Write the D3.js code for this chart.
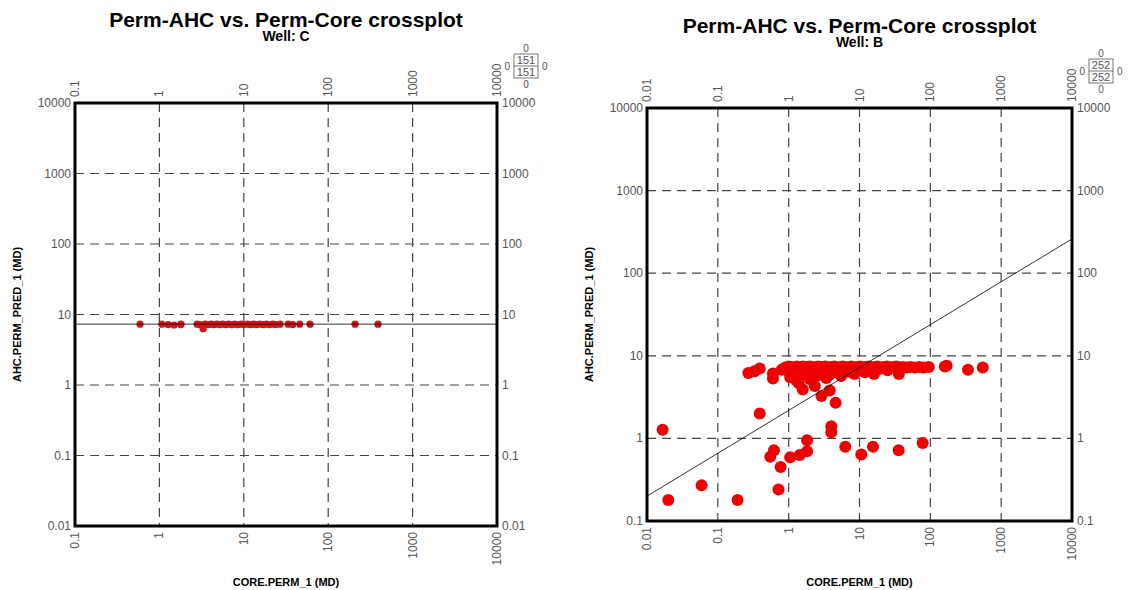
<!DOCTYPE html>
<html>
<head>
<meta charset="utf-8">
<script src="https://d3js.org/d3.v7.min.js"></script>
<style>
body { margin: 0; background: #fff; }
text { font-family: "Liberation Sans", Arial, sans-serif; }
</style>
</head>
<body>
<div id="chart"></div>
<script>
var width = 1128, height = 590;

// Well C: core perm vs predicted perm
var coreC = [0.59, 1.07, 1.27, 1.49, 1.79, 1.8, 2.8, 3.0, 3.2, 3.3, 3.5, 3.8, 4.1, 4.4, 4.8, 5.2, 5.6, 6.1, 6.6, 7.2,
             7.8, 8.5, 9.3, 10, 11, 12, 13, 14, 15.5, 17, 18.5, 20, 22, 24, 27, 33.5, 38, 46, 61, 208, 390];
var predC = [7.3, 7.3, 7.2, 7.1, 7.2, 7.3, 7.3, 7.2, 7.1, 6.3, 7.3, 7.2, 7.3, 7.2, 7.3, 7.2, 7.3, 7.2, 7.3, 7.2,
             7.3, 7.2, 7.3, 7.2, 7.3, 7.2, 7.3, 7.2, 7.3, 7.2, 7.3, 7.2, 7.3, 7.2, 7.3, 7.3, 7.2, 7.3, 7.3, 7.3, 7.3];
var fitC = [[0.1, 7.3], [10000, 7.3]];

// Well B
var coreB = [0.0166, 0.020, 0.059, 0.19, 0.39, 0.27, 0.33, 0.39, 0.6, 0.6, 0.55, 0.62, 0.77, 0.72, 1.05, 1.43, 1.82, 1.82,
             4.0, 4.0, 6.3, 10.6, 15.5, 35.7, 78, 1.58, 2.34, 2.9, 3.8, 4.6, 1.38,
             0.8, 0.9, 1.0, 1.1, 1.2, 1.3, 1.4, 1.5, 1.6, 1.7, 1.8, 2.0, 2.2, 2.4, 2.6, 2.8, 3.0, 3.3, 3.6, 4.0,
             4.4, 4.8, 5.3, 5.8, 6.4, 7.0, 7.7, 8.5, 9.3, 10.2, 11.2, 12.3, 13.5, 15, 16.5, 18, 20, 22, 24.5, 27,
             30, 33, 37, 41, 46, 52, 60, 70, 80, 95, 160, 170, 340, 550,
             1.0, 1.2, 1.4, 1.7, 2.1, 2.5, 3.1, 3.7, 4.5, 5.5, 7, 8.5, 12, 16, 36,
             1.05, 1.3, 1.6, 2.0, 2.6, 3.4, 1.15, 1.5, 1.9, 2.3, 2.8, 3.2, 4.2, 5.0, 6.0, 9, 11, 14, 19, 25];
var predB = [1.27, 0.18, 0.27, 0.18, 2.0, 6.2, 6.5, 7.0, 5.3, 6.1, 0.60, 0.72, 0.45, 0.24, 0.59, 0.63, 0.70, 0.95,
             1.4, 1.19, 0.79, 0.64, 0.79, 0.72, 0.88, 3.9, 4.3, 3.25, 3.8, 2.7, 4.7,
             6.8, 7.2, 7.4, 7.3, 7.1, 7.4, 7.2, 7.3, 7.4, 7.2, 7.3, 7.4, 7.2, 7.3, 7.4, 7.2, 7.3, 7.4, 7.2, 7.3,
             7.4, 7.2, 7.3, 7.4, 7.2, 7.3, 7.4, 7.2, 7.3, 7.4, 7.2, 7.3, 7.4, 7.2, 7.3, 7.4, 7.2, 7.3, 7.4, 7.2,
             7.3, 7.4, 7.2, 7.3, 7.2, 7.3, 7.2, 7.3, 7.2, 7.3, 7.4, 7.6, 6.8, 7.2,
             6.5, 6.2, 5.9, 6.4, 5.6, 6.0, 6.6, 5.8, 6.3, 5.7, 6.4, 6.0, 6.3, 6.0, 6.0,
             5.5, 5.0, 6.0, 5.2, 5.8, 5.4, 6.8, 6.6, 6.9, 6.7, 6.5, 6.8, 6.9, 6.6, 6.8, 6.9, 6.7, 6.8, 6.9, 6.7];
var fitB = [[0.01, 0.2], [10000, 260]];

var plots = [
  { well: "C", n: 151, core: coreC, pred: predC, fit: fitC,
    xDom: [0.1, 10000], yDom: [0.01, 10000], x0: 75, x1: 497, y0: 103, y1: 526,
    titleY: 27, r: 3.6, color: "#d41414" },
  { well: "B", n: 252, core: coreB, pred: predB, fit: fitB,
    xDom: [0.01, 10000], yDom: [0.1, 10000], x0: 647, x1: 1072, y0: 108, y1: 521,
    titleY: 33, r: 6, color: "#ee0000" }
];

var svg = d3.select("#chart").append("svg")
  .attr("width", width)
  .attr("height", height);

var fmt = function(d) { return d >= 1 ? d3.format("d")(d) : String(d); };
var grey = "#555";

plots.forEach(function(p) {
  var x = d3.scaleLog().domain(p.xDom).range([p.x0, p.x1]);
  var y = d3.scaleLog().domain(p.yDom).range([p.y1, p.y0]);
  var xt = x.ticks().filter(function(d) { return Math.abs(Math.log10(d) % 1) < 1e-6; });
  var yt = y.ticks().filter(function(d) { return Math.abs(Math.log10(d) % 1) < 1e-6; });
  var cx = (p.x0 + p.x1) / 2;
  var g = svg.append("g");

  // titles
  g.append("text").attr("x", cx).attr("y", p.titleY).attr("text-anchor", "middle")
    .style("font-size", "21px").style("font-weight", "bold").text("Perm-AHC vs. Perm-Core crossplot");
  g.append("text").attr("x", cx).attr("y", p.titleY + 14).attr("text-anchor", "middle")
    .style("font-size", "14px").style("font-weight", "bold").text("Well: " + p.well);

  // grid
  g.selectAll(".vg").data(xt.slice(1, -1)).enter().append("line")
    .attr("x1", x).attr("x2", x).attr("y1", p.y0).attr("y2", p.y1)
    .style("stroke", "#444").style("stroke-dasharray", "9,6").style("stroke-width", 1.2);
  g.selectAll(".hg").data(yt.slice(1, -1)).enter().append("line")
    .attr("y1", y).attr("y2", y).attr("x1", p.x0).attr("x2", p.x1)
    .style("stroke", "#444").style("stroke-dasharray", "9,6").style("stroke-width", 1.2);

  // points
  var clip = "clip" + p.well;
  svg.append("clipPath").attr("id", clip).append("rect")
    .attr("x", p.x0).attr("y", p.y0).attr("width", p.x1 - p.x0).attr("height", p.y1 - p.y0);
  g.selectAll(".pt").data(p.core).enter().append("circle")
    .attr("cx", function(d) { return x(d); })
    .attr("cy", function(d, i) { return y(p.pred[i]); })
    .attr("r", p.r).style("fill", p.color);

  // fit line
  g.append("line").attr("clip-path", "url(#" + clip + ")")
    .attr("x1", x(p.fit[0][0])).attr("y1", y(p.fit[0][1]))
    .attr("x2", x(p.fit[1][0])).attr("y2", y(p.fit[1][1]))
    .style("stroke", "#000").style("stroke-width", 0.8);

  // frame
  g.append("rect").attr("x", p.x0).attr("y", p.y0).attr("width", p.x1 - p.x0).attr("height", p.y1 - p.y0)
    .style("fill", "none").style("stroke", "#000").style("stroke-width", 3);

  // tick labels
  yt.forEach(function(d) {
    g.append("text").attr("x", p.x0 - 4).attr("y", y(d) + 4).attr("text-anchor", "end")
      .style("font-size", "12px").style("fill", grey).text(fmt(d));
    g.append("text").attr("x", p.x1 + 5).attr("y", y(d) + 4).attr("text-anchor", "start")
      .style("font-size", "12px").style("fill", grey).text(fmt(d));
  });
  xt.forEach(function(d) {
    g.append("text").attr("transform", "translate(" + (x(d) + 4) + "," + (p.y0 - 6) + ") rotate(-90)")
      .attr("text-anchor", "start").style("font-size", "12px").style("fill", grey).text(fmt(d));
    g.append("text").attr("transform", "translate(" + (x(d) + 4) + "," + (p.y1 + 6) + ") rotate(-90)")
      .attr("text-anchor", "end").style("font-size", "12px").style("fill", grey).text(fmt(d));
  });

  // axis titles
  g.append("text").attr("x", cx).attr("y", 586).attr("text-anchor", "middle")
    .style("font-size", "11px").style("font-weight", "bold").text("CORE.PERM_1 (MD)");
  g.append("text").attr("transform", "translate(" + (p.x0 - 54) + "," + ((p.y0 + p.y1) / 2) + ") rotate(-90)")
    .attr("text-anchor", "middle").style("font-size", "11px").style("font-weight", "bold").text("AHC.PERM_PRED_1 (MD)");

  // count box
  var bx = p.x1 + 17, by = p.y0 - 49, bw = 24, bh = 24;
  g.append("rect").attr("x", bx).attr("y", by).attr("width", bw).attr("height", bh)
    .style("fill", "none").style("stroke", grey).style("stroke-width", 0.8);
  g.append("line").attr("x1", bx).attr("x2", bx + bw).attr("y1", by + bh / 2).attr("y2", by + bh / 2)
    .style("stroke", grey).style("stroke-width", 0.8);
  [[bx + bw / 2, by - 2, "0", "middle"], [bx + bw / 2, by + bh + 10, "0", "middle"],
   [bx - 4, by + bh / 2 + 4, "0", "end"], [bx + bw + 4, by + bh / 2 + 4, "0", "start"]].forEach(function(t) {
    g.append("text").attr("x", t[0]).attr("y", t[1]).attr("text-anchor", t[3])
      .style("font-size", "10px").style("fill", grey).text(t[2]);
  });
  g.append("text").attr("x", bx + bw / 2).attr("y", by + 10).attr("text-anchor", "middle")
    .style("font-size", "11px").style("fill", grey).text(p.n);
  g.append("text").attr("x", bx + bw / 2).attr("y", by + 22).attr("text-anchor", "middle")
    .style("font-size", "11px").style("fill", grey).text(p.n);
});
</script>
</body>
</html>
